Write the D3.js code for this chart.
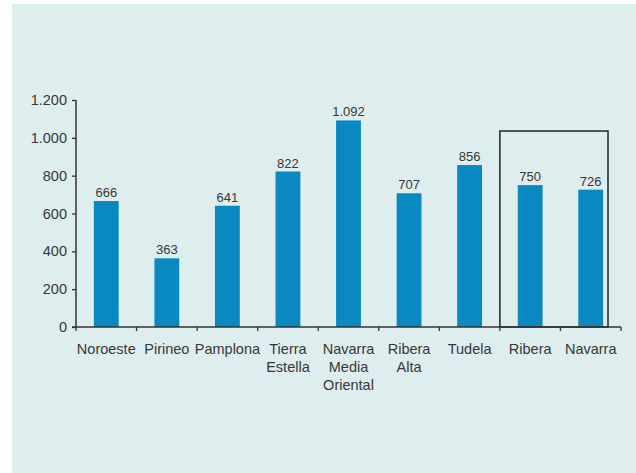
<!DOCTYPE html>
<html>
<head>
<meta charset="utf-8">
<script src="https://cdn.jsdelivr.net/npm/d3@7"></script>
<style>
  html, body { margin: 0; padding: 0; background: #ffffff; }
  svg { display: block; }
  text { font-family: "Liberation Sans", Arial, sans-serif; fill: #383838; }
</style>
</head>
<body>
<svg id="chart" width="636" height="473"></svg>
<script>
// Comarcas de Navarra
const categories = ["Noroeste", "Pirineo", "Pamplona", "Tierra Estella", "Navarra Media Oriental", "Ribera Alta", "Tudela", "Ribera", "Navarra"];
const labelLines = [["Noroeste"], ["Pirineo"], ["Pamplona"], ["Tierra", "Estella"], ["Navarra", "Media", "Oriental"], ["Ribera", "Alta"], ["Tudela"], ["Ribera"], ["Navarra"]];
const values = [666, 363, 641, 822, 1092, 707, 856, 750, 726];
const yTicks = [0, 200, 400, 600, 800, 1000, 1200];
// Categories grouped inside the framed box
const highlighted = ["Ribera", "Navarra"];

const svg = d3.select("#chart");
const W = 636, H = 473;

// panel background
svg.append("rect").attr("x", 12).attr("y", 4).attr("width", W - 12).attr("height", H - 4)
  .attr("fill", "#deeded");

const margin = { left: 76, right: 15, top: 100, bottom: 146 };
const x = d3.scaleBand().domain(categories)
  .range([margin.left, W - margin.right])
  .paddingInner(0.59).paddingOuter(0.295);
const y = d3.scaleLinear().domain([0, 1200]).range([H - margin.bottom, margin.top]);

const fmt = d3.formatLocale({ decimal: ",", thousands: ".", grouping: [3], currency: ["", " €"] }).format(",d");
const step = x.step();
const half = (step - x.bandwidth()) / 2;

// bars
svg.append("g").selectAll("rect").data(values).join("rect")
  .attr("x", (d, i) => x(categories[i]))
  .attr("y", d => y(d))
  .attr("width", x.bandwidth())
  .attr("height", d => y(0) - y(d))
  .attr("fill", "#0a89c1");

// value labels
svg.append("g").selectAll("text").data(values).join("text")
  .attr("x", (d, i) => x(categories[i]) + x.bandwidth() / 2)
  .attr("y", d => y(d) - 4)
  .attr("text-anchor", "middle")
  .attr("font-size", 13)
  .text(d => fmt(d));

// framed group
const boxLeft = x(highlighted[0]) - half;
const boxRight = x(highlighted[highlighted.length - 1]) + x.bandwidth() + half - 13;
svg.append("rect")
  .attr("x", boxLeft).attr("y", y(1036))
  .attr("width", boxRight - boxLeft).attr("height", y(0) - y(1036))
  .attr("fill", "none").attr("stroke", "#222222").attr("stroke-width", 1.5);

// y axis
const yAxis = svg.append("g").attr("transform", `translate(${margin.left},0)`)
  .call(d3.axisLeft(y).tickValues(yTicks).tickSize(4).tickPadding(5).tickFormat(fmt));
yAxis.select(".domain").attr("stroke", "#333333").attr("stroke-width", 1.5).attr("d", `M0,${y(1200)}V${y(0)}`);
yAxis.selectAll(".tick line").attr("stroke", "#333333").attr("stroke-width", 1.3);
yAxis.selectAll(".tick text").attr("font-size", 14.5).attr("font-family", "Liberation Sans, Arial, sans-serif").attr("fill", "#383838");

// x axis with ticks at category boundaries
const xAxis = svg.append("g");
const x0 = margin.left, x1 = W - margin.right;
xAxis.append("line").attr("x1", x0 - 4).attr("x2", x1).attr("y1", y(0)).attr("y2", y(0))
  .attr("stroke", "#333333").attr("stroke-width", 1.5);
const bounds = d3.range(categories.length + 1).map(i => x0 + i * step);
xAxis.selectAll("line.tk").data(bounds).join("line").attr("class", "tk")
  .attr("x1", d => d).attr("x2", d => d).attr("y1", y(0)).attr("y2", y(0) + 4)
  .attr("stroke", "#333333").attr("stroke-width", 1.3);

// category labels
const lbl = svg.append("g").selectAll("text").data(categories).join("text")
  .attr("text-anchor", "middle")
  .attr("font-size", 14.5)
  .attr("transform", (d) => `translate(${x(d) + x.bandwidth() / 2},${y(0) + 27})`);
lbl.each(function (d, i) {
  const t = d3.select(this);
  labelLines[i].forEach((line, j) => {
    t.append("tspan").attr("x", 0).attr("dy", j === 0 ? 0 : 18).text(line);
  });
});
</script>
</body>
</html>
